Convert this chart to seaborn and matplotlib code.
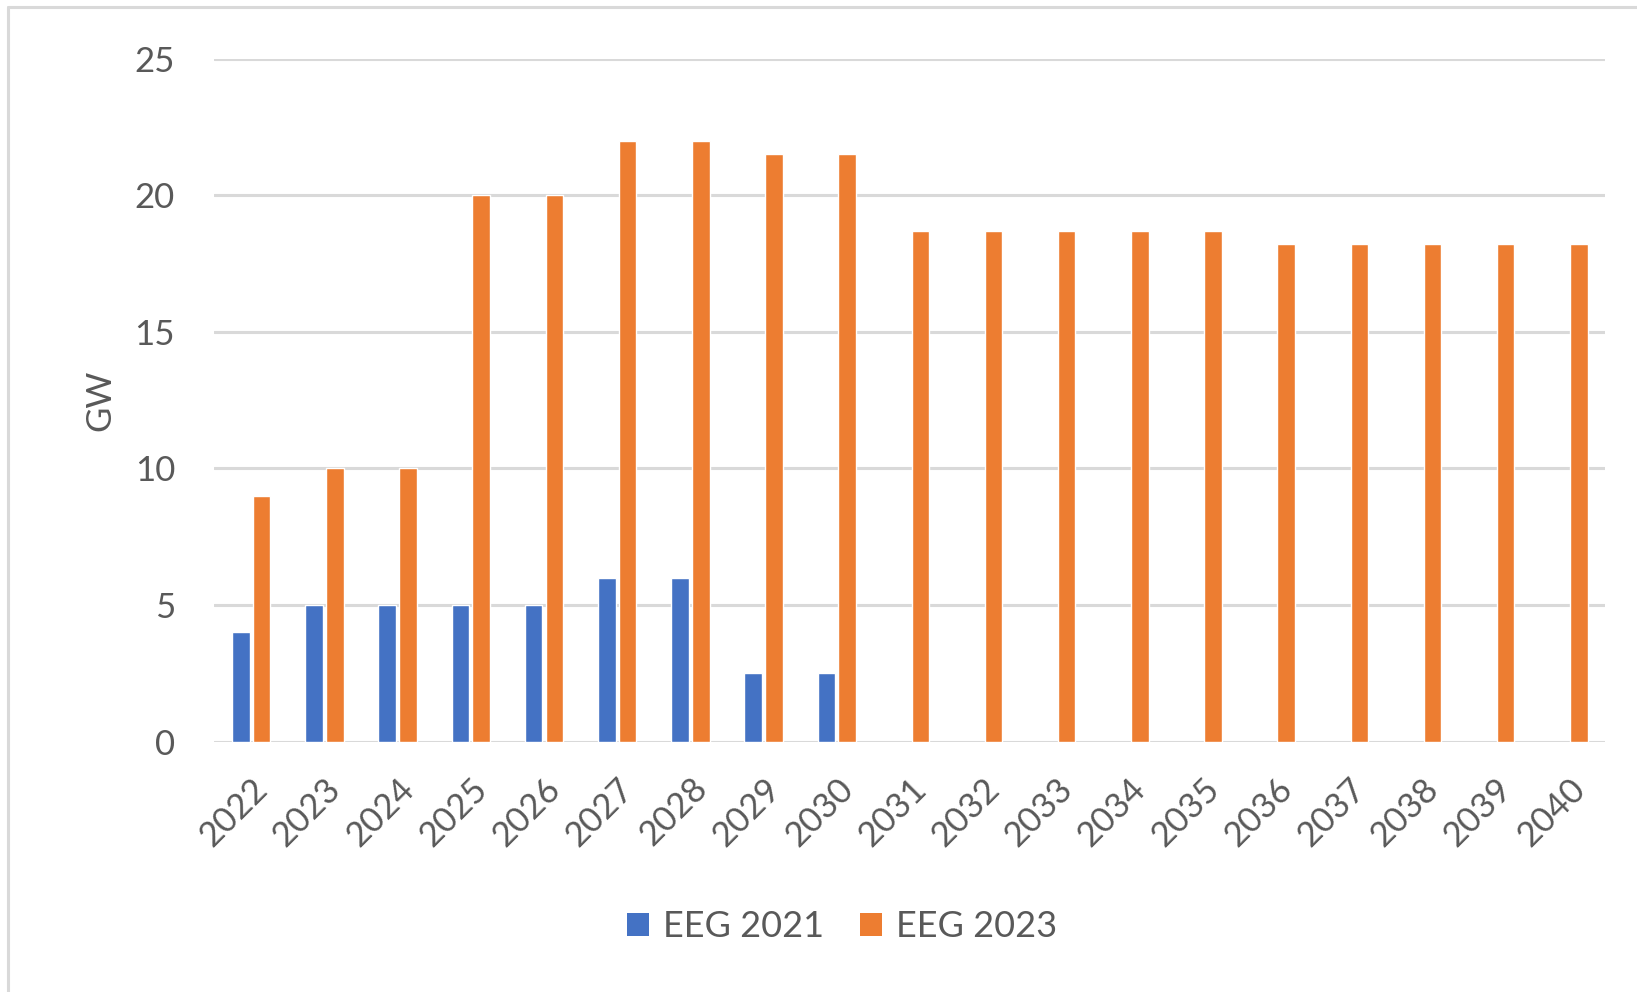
import matplotlib
matplotlib.use("Agg")
import matplotlib.pyplot as plt
from matplotlib.patches import Patch
from matplotlib.lines import Line2D
import numpy as np
import pandas as pd
import seaborn as sns

years = [str(y) for y in range(2022, 2041)]
eeg2021 = [4, 5, 5, 5, 5, 6, 6, 2.5, 2.5] + [np.nan] * 10
eeg2023 = [9, 10, 10, 20, 20, 22, 22, 21.5, 21.5,
           18.7, 18.7, 18.7, 18.7, 18.7, 18.2, 18.2, 18.2, 18.2, 18.2]
series = ["EEG 2021", "EEG 2023"]
colors = ["#4472C4", "#ED7D31"]
y_ticks = [0, 5, 10, 15, 20, 25]
y_label = "GW"

df = pd.DataFrame({
    "Jahr": years * 2,
    "GW": eeg2021 + eeg2023,
    "Serie": [series[0]] * len(years) + [series[1]] * len(years),
})

sns.set_theme(style="white")
plt.rcParams["font.family"] = ["Lato", "DejaVu Sans"]

fig = plt.figure(figsize=(16.37, 9.92), dpi=100)
ax = fig.add_axes([0.1307, 0.2523, 0.8498, 0.6887])

sns.barplot(data=df, x="Jahr", y="GW", hue="Serie", hue_order=series,
            order=years, palette=colors, width=0.57, gap=0.16,
            errorbar=None, saturation=1, ax=ax, legend=False)

ax.set_ylim(0, 25)
ax.set_xlim(-0.51, len(years) - 0.5)
ax.set_yticks(y_ticks)
ax.set_yticklabels([str(t) for t in y_ticks])
ax.grid(axis="y", color="#D9D9D9", linewidth=2.2)
ax.set_axisbelow(True)
for s in ax.spines.values():
    s.set_visible(False)

ax.tick_params(axis="y", length=0, pad=28, labelsize=25, labelcolor="#595959")
ax.tick_params(axis="x", length=0, pad=22, labelsize=25, labelcolor="#595959")
for lab in ax.get_xticklabels():
    lab.set_rotation(45)
    lab.set_ha("right")
    lab.set_va("top")
    lab.set_rotation_mode("anchor")

ax.set_xlabel("")
ax.set_ylabel(y_label, fontsize=25, color="#595959")
ax.yaxis.set_label_coords(-0.0705, 0.5)

handles = [Patch(facecolor=c, edgecolor="none") for c in colors]
fig.legend(handles, series, loc="center", bbox_to_anchor=(0.5145, 0.066),
           ncol=2, frameon=False, fontsize=26, labelcolor="#595959",
           handlelength=0.6, handleheight=0.6, handletextpad=0.4,
           columnspacing=1.0)

# outer chart border (top and left visible in the cropped screenshot)
fig.add_artist(Line2D([0.0048, 0.0048], [0.0, 0.9925], transform=fig.transFigure,
                      color="#D9D9D9", linewidth=2.2))
fig.add_artist(Line2D([0.0048, 1.0], [0.9925, 0.9925], transform=fig.transFigure,
                      color="#D9D9D9", linewidth=2.2))

fig.savefig("out.png", dpi=100, facecolor="white")
